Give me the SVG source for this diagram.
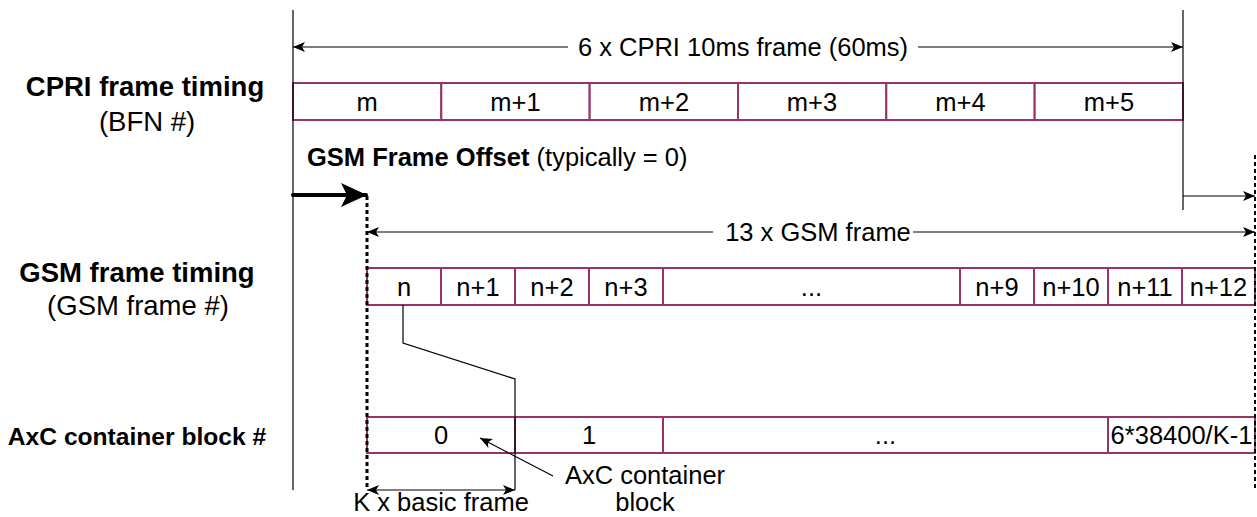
<svg xmlns="http://www.w3.org/2000/svg" width="1257" height="517" viewBox="0 0 1257 517">
<style>
text{font-family:"Liberation Sans",Arial,sans-serif;font-size:25.5px;fill:#000}
.b{font-weight:bold}
.c{text-anchor:middle}
.lab{font-size:27.5px}
.cell{fill:#fff;stroke:#993366;stroke-width:2}
.ln{stroke:#000;stroke-width:1.2;fill:none}
.dot{stroke:#000;stroke-width:3;stroke-dasharray:4 3;fill:none}
</style>
<defs>
<marker id="ah" viewBox="0 0 12 10" refX="12" refY="5" markerWidth="12" markerHeight="10" markerUnits="userSpaceOnUse" orient="auto-start-reverse">
<path d="M0,0 L12,5 L0,10 L3,5 Z" fill="#000"/>
</marker>
<marker id="bh" viewBox="0 0 26 24" refX="25" refY="12" markerWidth="26" markerHeight="24" markerUnits="userSpaceOnUse" orient="auto">
<path d="M0,0 L26,12 L0,24 L6,12 Z" fill="#000"/>
</marker>
</defs>
<rect width="1257" height="517" fill="#fff"/>

<g id="labels">
<text class="b c lab" x="145" y="96">CPRI frame timing</text>
<text class="c lab" x="147" y="131">(BFN #)</text>
<text class="b c lab" x="137" y="282">GSM frame timing</text>
<text class="c lab" x="138" y="315">(GSM frame #)</text>
<text class="b c" x="137" y="445" style="font-size:24.6px">AxC container block #</text>
<text x="307" y="166"><tspan class="b">GSM Frame Offset</tspan> (typically = 0)</text>
</g>

<g id="cpri-row">
<rect class="cell" x="293" y="83" width="148.3" height="37"/><text class="c" x="367" y="110.5">m</text>
<rect class="cell" x="441.3" y="83" width="148.3" height="37"/><text class="c" x="515.5" y="110.5">m+1</text>
<rect class="cell" x="589.7" y="83" width="148.3" height="37"/><text class="c" x="664" y="110.5">m+2</text>
<rect class="cell" x="738" y="83" width="148.3" height="37"/><text class="c" x="812" y="110.5">m+3</text>
<rect class="cell" x="886.3" y="83" width="148.3" height="37"/><text class="c" x="960.5" y="110.5">m+4</text>
<rect class="cell" x="1034.7" y="83" width="148.3" height="37"/><text class="c" x="1109" y="110.5">m+5</text>
</g>

<g id="gsm-row">
<rect class="cell" x="367" y="268" width="74" height="37"/><text class="c" x="404" y="295.5">n</text>
<rect class="cell" x="441" y="268" width="74" height="37"/><text class="c" x="478" y="295.5">n+1</text>
<rect class="cell" x="515" y="268" width="74" height="37"/><text class="c" x="552" y="295.5">n+2</text>
<rect class="cell" x="589" y="268" width="74" height="37"/><text class="c" x="626" y="295.5">n+3</text>
<rect class="cell" x="663" y="268" width="297" height="37"/><text class="c" x="811.5" y="295.5">...</text>
<rect class="cell" x="960" y="268" width="74" height="37"/><text class="c" x="997" y="295.5">n+9</text>
<rect class="cell" x="1034" y="268" width="74" height="37"/><text class="c" x="1071" y="295.5">n+10</text>
<rect class="cell" x="1108" y="268" width="74" height="37"/><text class="c" x="1145" y="295.5">n+11</text>
<rect class="cell" x="1182" y="268" width="73" height="37"/><text class="c" x="1218.5" y="295.5">n+12</text>
</g>

<g id="axc-row">
<rect class="cell" x="367" y="417" width="148" height="36"/><text class="c" x="441" y="444">0</text>
<rect class="cell" x="515" y="417" width="148" height="36"/><text class="c" x="589" y="444">1</text>
<rect class="cell" x="663" y="417" width="445" height="36"/><text class="c" x="885.5" y="444">...</text>
<rect class="cell" x="1108" y="417" width="147" height="36"/><text class="c" x="1181.5" y="444">6*38400/K-1</text>
</g>

<g id="connectors">
<line class="ln" x1="293" y1="10" x2="293" y2="490"/>
<line class="ln" x1="1183" y1="10" x2="1183" y2="210"/>
<line class="dot" x1="367" y1="196" x2="367" y2="490"/>
<line class="dot" x1="1255" y1="155" x2="1255" y2="490" style="stroke-width:2"/>
<line class="ln" x1="293" y1="47" x2="1183" y2="47" marker-start="url(#ah)" marker-end="url(#ah)"/>
<line x1="293" y1="195" x2="366" y2="195" stroke="#000" stroke-width="4" stroke-linecap="round" marker-end="url(#bh)"/>
<line class="ln" x1="1183" y1="196" x2="1255" y2="196" marker-end="url(#ah)"/>
<line class="ln" x1="367" y1="232" x2="1255" y2="232" marker-start="url(#ah)" marker-end="url(#ah)"/>
<polyline class="ln" points="403,305 403,343 515,379 515,490"/>
<line class="ln" x1="367" y1="490" x2="515" y2="490" marker-start="url(#ah)" marker-end="url(#ah)"/>
<line class="ln" x1="553" y1="476" x2="480" y2="438" marker-end="url(#ah)"/>
</g>

<g id="dim-labels">
<rect x="568" y="32" width="350" height="30" fill="#fff"/>
<text class="c" x="743" y="56">6 x CPRI 10ms frame (60ms)</text>
<rect x="713" y="217" width="200" height="30" fill="#fff"/>
<text class="c" x="818" y="241">13 x GSM frame</text>
<text class="c" x="441" y="511">K x basic frame</text>
<text class="c" x="645" y="484">AxC container</text>
<text class="c" x="645" y="511">block</text>
</g>
</svg>
